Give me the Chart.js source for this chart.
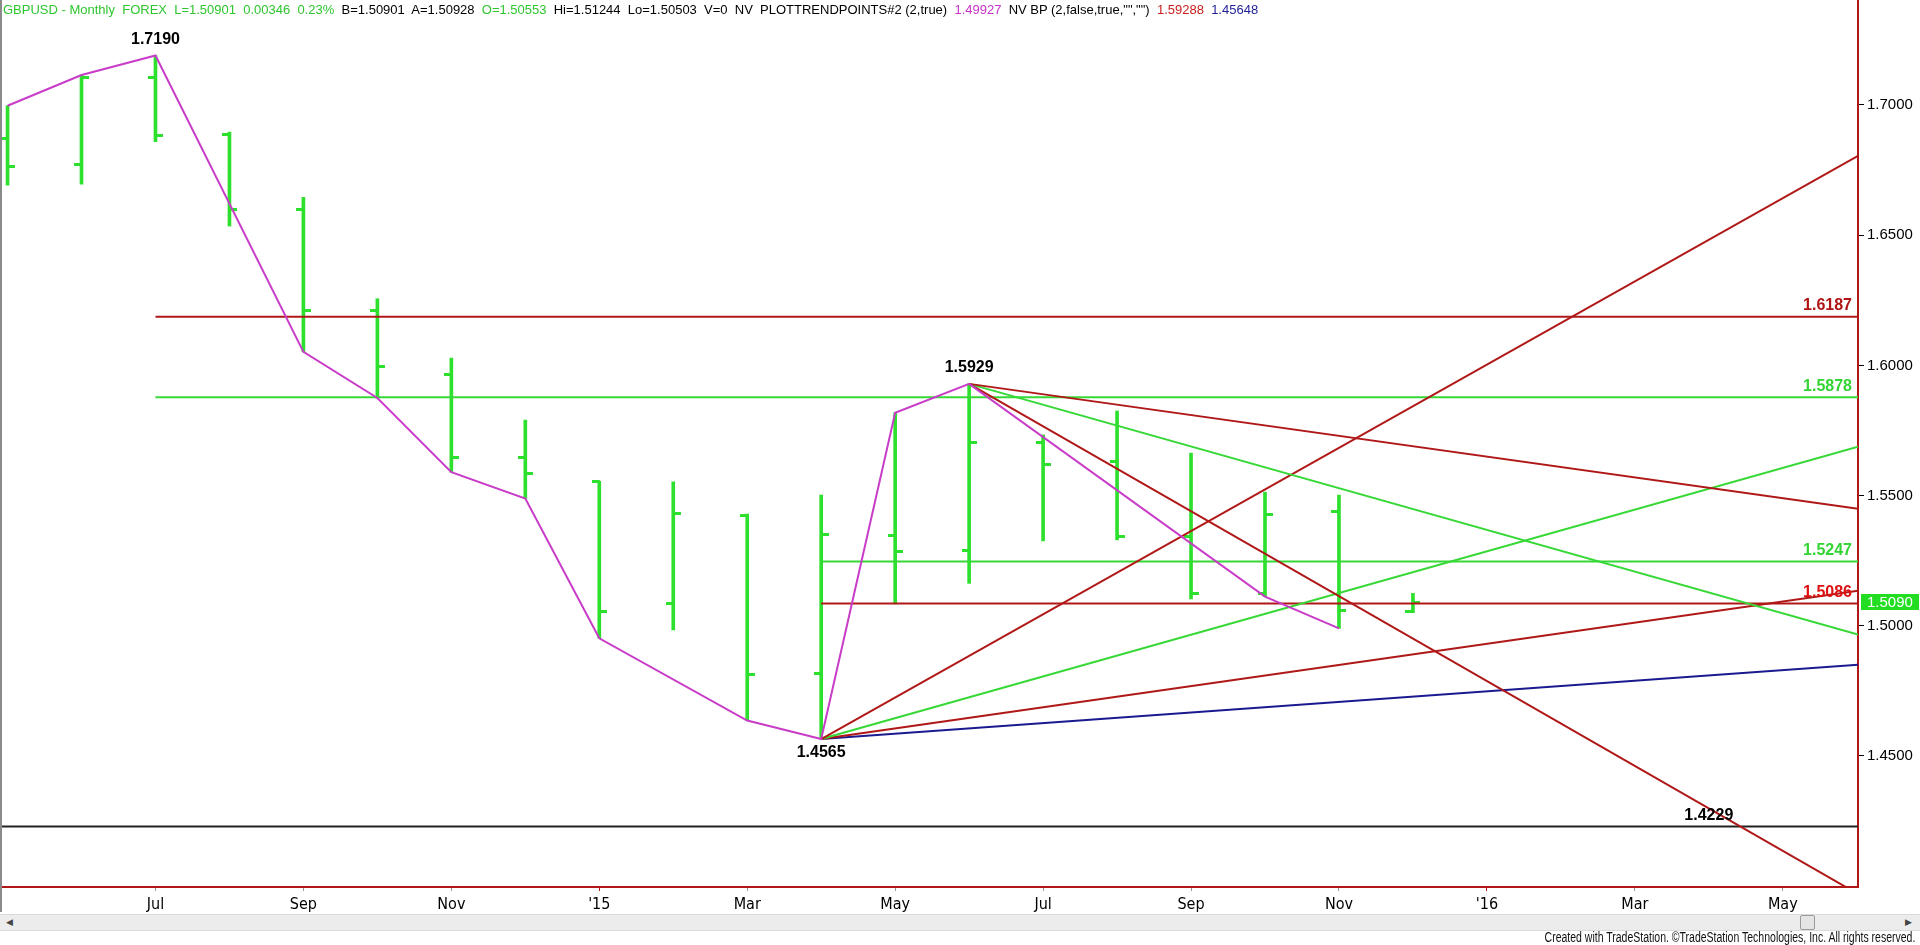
<!DOCTYPE html>
<html>
<head>
<meta charset="utf-8">
<title>GBPUSD Monthly</title>
<script src="https://cdn.jsdelivr.net/npm/chart.js@4.4.1/dist/chart.umd.min.js"></script>
<style>
  body { margin: 0; background: #fff; }
  #wrap { position: relative; width: 1920px; height: 945px; overflow: hidden; font-family: "Liberation Sans", Arial, sans-serif; }
  #hdr { position: absolute; left: 3px; top: 2px; font-size: 13px; white-space: pre; color: #000; }
  .g { color: #2fc62f; } .m { color: #c832c8; } .r { color: #c81e1e; } .b { color: #1e1e96; }
  #lborder { position: absolute; left: 0; top: 0; width: 2px; height: 912px; background: #8a8a8a; }
  #scroll { position: absolute; left: 0; top: 914px; width: 1920px; height: 15px; background: #ececec; border-top: 1px solid #dadada; border-bottom: 1px solid #dadada; }
  #thumb { position: absolute; left: 1800px; top: 0px; width: 13px; height: 13px; background: #e4e4e4; border: 1px solid #9a9a9a; border-radius: 2px; }
  .arr { position: absolute; top: 2px; font-size: 9px; color: #444; }
  #copy { position: absolute; right: 5px; top: 929px; font-size: 14px; color: #111; transform: scaleX(0.75); transform-origin: right center; white-space: nowrap; }
</style>
</head>
<body>
<div id="wrap">
  <canvas id="chart" width="1920" height="945"></canvas>
  <div id="lborder"></div>
  <div id="hdr"><span class="g">GBPUSD - Monthly  FOREX  L=1.50901  0.00346  0.23%</span>  B=1.50901  A=1.50928  <span class="g">O=1.50553</span>  Hi=1.51244  Lo=1.50503  V=0  NV  PLOTTRENDPOINTS#2 (2,true)  <span class="m">1.49927</span>  NV BP (2,false,true,"","")  <span class="r">1.59288</span>  <span class="b">1.45648</span></div>
  <div id="scroll"><span class="arr" style="left:6px">&#9664;</span><div id="thumb"></div><span class="arr" style="left:1905px">&#9654;</span></div>
  <div id="copy">Created with TradeStation. ©TradeStation Technologies, Inc. All rights reserved.</div>
</div>
<script>
// monthly bars, May 2014 .. Dec 2015 (x = month index, May 2014 = 0)
const months = ["May 2014", "Jun 2014", "Jul 2014", "Aug 2014", "Sep 2014", "Oct 2014", "Nov 2014", "Dec 2014",
  "Jan 2015", "Feb 2015", "Mar 2015", "Apr 2015", "May 2015", "Jun 2015", "Jul 2015", "Aug 2015",
  "Sep 2015", "Oct 2015", "Nov 2015", "Dec 2015"];
const openV  = [1.6872, 1.6770, 1.7105, 1.6887, 1.6598, 1.6210, 1.5966, 1.5645, 1.5553, 1.5087,
  1.5422, 1.4818, 1.5348, 1.5291, 1.5705, 1.5630, 1.5342, 1.5125, 1.5438, 1.50553];
const highV  = [1.6997, 1.7115, 1.7190, 1.6896, 1.6645, 1.6256, 1.6028, 1.5790, 1.5555, 1.5553,
  1.5429, 1.5502, 1.5818, 1.5929, 1.5733, 1.5825, 1.5663, 1.5513, 1.5502, 1.51244];
const lowV   = [1.6692, 1.6696, 1.6859, 1.6535, 1.6052, 1.5875, 1.5590, 1.5489, 1.4952, 1.4984,
  1.4636, 1.4565, 1.5084, 1.5163, 1.5326, 1.5330, 1.5103, 1.5112, 1.4990, 1.50503];
const closeV = [1.6762, 1.7105, 1.6884, 1.6597, 1.6212, 1.5997, 1.5646, 1.5584, 1.5054, 1.5432,
  1.4814, 1.5352, 1.5284, 1.5705, 1.5620, 1.5342, 1.5125, 1.5426, 1.5060, 1.50901];

// swing points (magenta zigzag)
const swingMonths = [0, 1, 2, 4, 5, 6, 7, 8, 10, 11, 12, 13, 17, 18];
const swingPrices = [1.6997, 1.7115, 1.7190, 1.6052, 1.5875, 1.5590, 1.5489, 1.4952, 1.4636, 1.4565, 1.5818, 1.5929, 1.5112, 1.4990];

// horizontal levels
const levelPrices = [1.6187, 1.5878, 1.5247, 1.5086, 1.4229];
const levelStart  = [2, 2, 11, 11, -0.075];

// fan lines out of the 1.5929 high and the 1.4565 low, ending at the right edge
const fanFromMonth = [13, 13, 13, 11, 11, 11, 11];
const fanFromPrice = [1.5929, 1.5929, 1.5929, 1.4565, 1.4565, 1.4565, 1.4565];
const fanToPrice   = [1.5449, 1.4966, 1.3970, 1.6805, 1.5688, 1.5135, 1.4850];

// annotated pivots
const pivotMonths = [2, 13, 11];
const pivotPrices = [1.7190, 1.5929, 1.4565];

// axes
const xTickPos  = [2, 4, 6, 8, 10, 12, 14, 16, 18, 20, 22, 24];
const xTickText = ["Jul", "Sep", "Nov", "'15", "Mar", "May", "Jul", "Sep", "Nov", "'16", "Mar", "May"];
const yTickVals = [1.45, 1.50, 1.55, 1.60, 1.65, 1.70];
const xMin = -0.075, xMax = 25.017;
const yMin = 1.39969, yMax = 1.74032;

const BAR = "#2ee02e";
const LGREEN = "#36d836";
const DRED = "#b01818";
const BLUE = "#1a1a90";
const MAG = "#c83cc8";

const levelColors = [DRED, LGREEN, LGREEN, DRED, "#222"];
const levelText = ["#b01515", "#33d433", "#33d433", "#dd1111"];
const fanColors = [DRED, LGREEN, DRED, DRED, LGREEN, DRED, BLUE];

function tickImg(side) {
  const c = document.createElement("canvas");
  c.width = 15; c.height = 3;
  const g = c.getContext("2d");
  g.fillStyle = BAR;
  if (side === "left") g.fillRect(0, 0, 8, 3);
  else g.fillRect(7, 0, 8, 3);
  return c;
}

function line(points, color, order) {
  return {
    type: "line",
    data: points,
    borderColor: color,
    borderWidth: 2,
    pointRadius: 0,
    fill: false,
    order: order
  };
}

const datasets = [];
datasets.push({
  type: "bar",
  data: months.map((m, i) => ({ x: i, y: [lowV[i], highV[i]] })),
  backgroundColor: BAR,
  barThickness: 3,
  grouped: false,
  order: 6
});
datasets.push({
  type: "scatter",
  data: months.map((m, i) => ({ x: i, y: openV[i] })),
  pointStyle: tickImg("left"),
  pointRadius: 5,
  order: 5
});
datasets.push({
  type: "scatter",
  data: months.map((m, i) => ({ x: i, y: closeV[i] })),
  pointStyle: tickImg("right"),
  pointRadius: 5,
  order: 5
});
levelPrices.forEach((p, i) => {
  datasets.push(line([{ x: levelStart[i], y: p }, { x: xMax, y: p }], levelColors[i], 3));
});
fanToPrice.forEach((p, i) => {
  datasets.push(line([{ x: fanFromMonth[i], y: fanFromPrice[i] }, { x: xMax, y: p }], fanColors[i], 2));
});
datasets.push(line(swingMonths.map((m, i) => ({ x: m, y: swingPrices[i] })), MAG, 1));

const labelsPlugin = {
  id: "labels",
  afterDatasetsDraw(chart) {
    const { ctx, chartArea: a } = chart;
    const x = chart.scales.x, y = chart.scales.y;
    ctx.save();
    ctx.font = 'bold 16px "Liberation Sans", Arial, sans-serif';
    ctx.textBaseline = "middle";

    // pivot prices: two highs above, the low below
    const pivotOffset = [-16, -16, 14];
    ctx.fillStyle = "#000";
    ctx.textAlign = "center";
    pivotMonths.forEach((m, i) => {
      ctx.fillText(pivotPrices[i].toFixed(4), x.getPixelForValue(m), y.getPixelForValue(pivotPrices[i]) + pivotOffset[i]);
    });

    // level labels at the right edge
    ctx.textAlign = "right";
    levelText.forEach((c, i) => {
      ctx.fillStyle = c;
      ctx.fillText(levelPrices[i].toFixed(4), a.right - 6, y.getPixelForValue(levelPrices[i]) - 11);
    });
    // the support level is labelled near Apr '16
    ctx.fillStyle = "#000";
    ctx.textAlign = "center";
    ctx.fillText(levelPrices[4].toFixed(4), x.getPixelForValue(23), y.getPixelForValue(levelPrices[4]) - 11);
    ctx.restore();
  },
  afterDraw(chart) {
    const { ctx, chartArea: a } = chart;
    const y = chart.scales.y;
    const last = closeV[closeV.length - 1];
    const py = Math.round(y.getPixelForValue(last));
    ctx.save();
    ctx.fillStyle = "#22dd22";
    ctx.fillRect(a.right + 3, py - 8, 58, 16);
    ctx.fillStyle = "#fff";
    ctx.font = '15px "Liberation Sans", Arial, sans-serif';
    ctx.textBaseline = "middle";
    ctx.textAlign = "left";
    ctx.fillText(last.toFixed(4), a.right + 9, py + 1);
    ctx.restore();
  }
};

new Chart(document.getElementById("chart"), {
  type: "bar",
  data: { datasets: datasets },
  plugins: [labelsPlugin],
  options: {
    responsive: false,
    animation: false,
    events: [],
    devicePixelRatio: 1,
    layout: { autoPadding: false, padding: { left: 2, right: 0, top: 0, bottom: 33 } },
    plugins: {
      legend: { display: false },
      tooltip: { enabled: false }
    },
    scales: {
      x: {
        type: "linear",
        offset: false,
        min: xMin,
        max: xMax,
        afterBuildTicks: (s) => { s.ticks = xTickPos.map((v) => ({ value: v })); },
        afterFit: (s) => { s.height = 25; s.paddingLeft = 0; s.paddingRight = 0; },
        ticks: {
          autoSkip: false,
          maxRotation: 0,
          padding: 4,
          color: "#000",
          font: { family: '"Liberation Sans Narrow", "Arial Narrow", "DejaVu Sans Condensed", sans-serif', size: 16 },
          callback: (v) => xTickText[xTickPos.indexOf(v)]
        },
        grid: {
          offset: false,
          drawOnChartArea: false,
          tickLength: 4,
          color: (c) => (c.tick && (c.tick.value === 8 || c.tick.value === 20) ? DRED : "#999")
        },
        border: { color: DRED, width: 2 }
      },
      y: {
        type: "linear",
        position: "right",
        min: yMin,
        max: yMax,
        afterBuildTicks: (s) => { s.ticks = yTickVals.map((v) => ({ value: v })); },
        afterFit: (s) => { s.width = 62; s.paddingTop = 0; s.paddingBottom = 0; },
        ticks: {
          padding: 3,
          color: "#000",
          font: { family: '"Liberation Sans", Arial, sans-serif', size: 15 },
          callback: (v) => Number(v).toFixed(4)
        },
        grid: { drawOnChartArea: false, tickLength: 6, color: "#000" },
        border: { color: DRED, width: 2 }
      }
    }
  }
});
</script>
</body>
</html>
